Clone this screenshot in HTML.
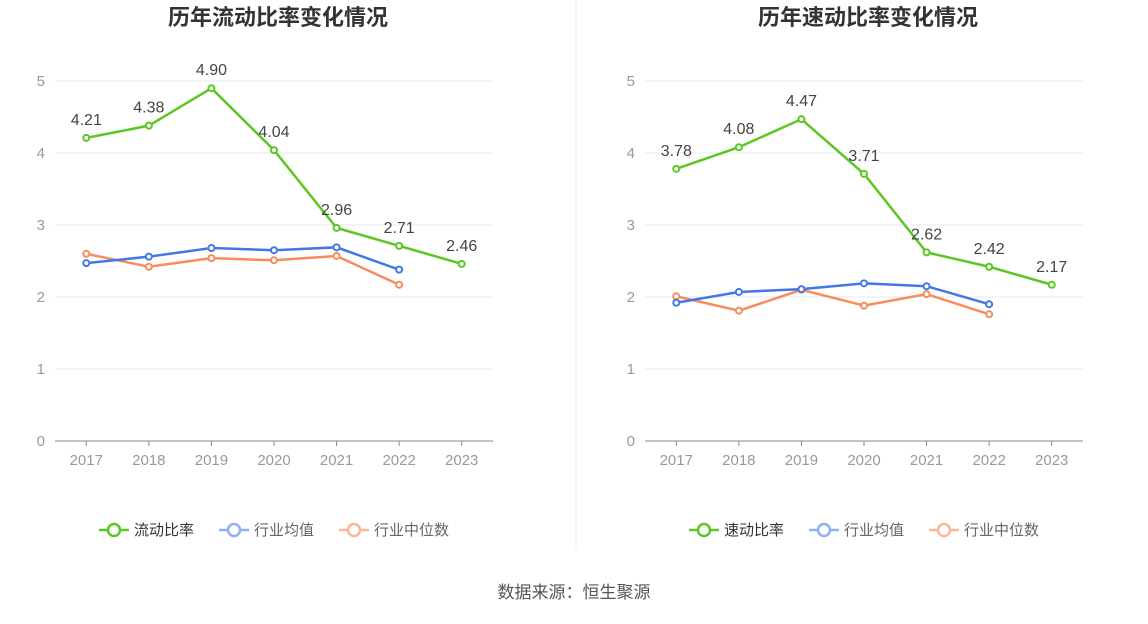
<!DOCTYPE html>
<html><head><meta charset="utf-8"><style>
body{margin:0;background:#fff;font-family:"Liberation Sans","Noto Sans CJK SC",sans-serif;}
svg text{font-family:"Liberation Sans","Noto Sans CJK SC",sans-serif;}
</style></head><body>
<svg id="s" width="1148" height="619">
<line x1="576" y1="0" x2="576" y2="550" stroke="#eee"/>
<text x="574" y="598" text-anchor="middle" font-size="17" fill="#555">数据来源：恒生聚源</text>
</svg>
<script>
const years=['2017','2018','2019','2020','2021','2022','2023'];
const yTicks=[0,1,2,3,4,5];
const leftMain=[4.21,4.38,4.90,4.04,2.96,2.71,2.46];
const leftAvg=[2.47,2.56,2.68,2.65,2.69,2.38];
const leftMed=[2.60,2.42,2.54,2.51,2.57,2.17];
const rightMain=[3.78,4.08,4.47,3.71,2.62,2.42,2.17];
const rightAvg=[1.92,2.07,2.11,2.19,2.15,1.90];
const rightMed=[2.01,1.81,2.10,1.88,2.04,1.76];
const svg=document.getElementById('s');const NS='http://www.w3.org/2000/svg';
function mk(t,a,p){const e=document.createElementNS(NS,t);for(const k in a)e.setAttribute(k,a[k]);(p||svg).appendChild(e);return e;}
function chart(x0,x1,title,mainName,main,avg,med,key){
 const g=mk('g',{});
 
 
 const y=v=>441-v*72;const step=(x1-x0)/years.length;const x=i=>x0+step*(i+0.5);
 const t=mk('text',{x:(x0+x1)/2+4,y:25,'text-anchor':'middle','font-size':22,'font-weight':'bold',fill:'#333'},g);t.textContent=title;
 
 yTicks.forEach(v=>{if(v>0){const l=mk('line',{x1:x0,x2:x1,y1:y(v),y2:y(v),stroke:'#e6e9f0'},g);}
  const tt=mk('text',{x:x0-10,y:y(v)+5,'text-anchor':'end','font-size':15,fill:'#999'},g);tt.textContent=v;});
 const ax=mk('line',{x1:x0,x2:x1,y1:441,y2:441,stroke:'#888'},g);
 years.forEach((yr,i)=>{const tk=mk('line',{x1:x(i),x2:x(i),y1:441,y2:446,stroke:'#888'},g);
  const tt=mk('text',{x:x(i),y:465,'text-anchor':'middle','font-size':15,fill:'#999'},g);tt.textContent=yr;});
 function series(d,c,nm,labels){const p=mk('polyline',{points:d.map((v,i)=>x(i)+','+y(v)).join(' '),fill:'none',stroke:c,'stroke-width':2.5},g);
  
  d.forEach((v,i)=>{const ci=mk('circle',{cx:x(i),cy:y(v),r:3,fill:'#fff',stroke:c,'stroke-width':2},g);
   if(labels){const tt=mk('text',{x:x(i),y:y(v)-13,'text-anchor':'middle','font-size':16,fill:'#444'},g);tt.textContent=v.toFixed(2);}});}
 series(med,'#f88c5e','industry-median');series(avg,'#4377e8','industry-average');series(main,'#5cc623',key+'-main',true);
 const lg=[[mainName,'#5cc623','#333'],['行业均值','#8fb0f0','#666'],['行业中位数','#fbb69a','#666']];
 const cx=(x0+x1)/2;const lx=[cx-155,cx-35,cx+85];
 lg.forEach((L,i)=>{const gg=mk('g',{},g);
  mk('line',{x1:lx[i]-20,x2:lx[i]+10,y1:530,y2:530,stroke:L[1],'stroke-width':2.5},gg);
  mk('circle',{cx:lx[i]-5,cy:530,r:6,fill:'#fff',stroke:L[1],'stroke-width':2.5},gg);
  const tt=mk('text',{x:lx[i]+15,y:535,'font-size':15,fill:L[2]},gg);tt.textContent=L[0];});
}
chart(55,493,'历年流动比率变化情况','流动比率',leftMain,leftAvg,leftMed,'current-ratio');
chart(645,1083,'历年速动比率变化情况','速动比率',rightMain,rightAvg,rightMed,'quick-ratio');
</script></body></html>
